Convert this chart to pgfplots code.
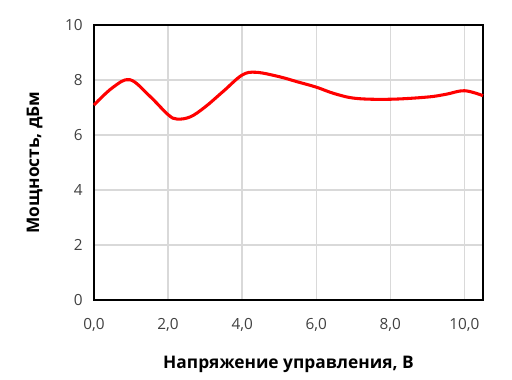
\documentclass[border=0pt]{standalone}
\usepackage{pgfplots}
\pgfplotsset{compat=1.18}
\usepackage{fontspec}
\setmainfont{Open Sans}
\definecolor{gridgray}{HTML}{D9D9D9}
\definecolor{tickgray}{HTML}{404040}
\begin{document}
\begin{tikzpicture}
\begin{axis}[
  scale only axis,
  width=291.75pt, height=206.25pt,
  xmin=0, xmax=10.5, ymin=0, ymax=10,
  xtick={0,2,4,6,8,10}, ytick={0,2,4,6,8,10},
  xticklabels={0{,}0,2{,}0,4{,}0,6{,}0,8{,}0,10{,}0},
  /pgf/number format/assume math mode=true,
  tick style={draw=none},
  grid=major,
  major grid style={gridgray, line width=1.1pt},
  axis line style={black, line width=1.1pt},
  ticklabel style={font=\fontsize{11.5}{13}\selectfont, text=tickgray},
  xticklabel style={yshift=-10pt},
  yticklabel style={xshift=-5pt},
  xlabel={\textbf{Напряжение управления, В}},
  ylabel={\textbf{Мощность, дБм}},
  label style={font=\fontsize{13}{15}\selectfont},
  xlabel style={yshift=-12pt},
  ylabel style={yshift=10pt},
  clip=false,
]
\addplot[red, line width=2.3pt, smooth, tension=0.6] coordinates {
(0,7.09) (0.5,7.72) (0.97,8.01) (1.5,7.42) (2.0,6.74) (2.24,6.58) (2.6,6.66)
(3.0,7.02) (3.5,7.6) (4.0,8.18) (4.38,8.28) (5.0,8.12) (5.5,7.93) (6.0,7.74)
(6.5,7.5) (7.08,7.33) (8.0,7.30) (9.0,7.38) (9.5,7.48) (10.0,7.61) (10.5,7.43)
};
\path (rel axis cs:-0.2416,-0.2873) rectangle (rel axis cs:1.0746,1.0909);
\end{axis}
\end{tikzpicture}
\end{document}
